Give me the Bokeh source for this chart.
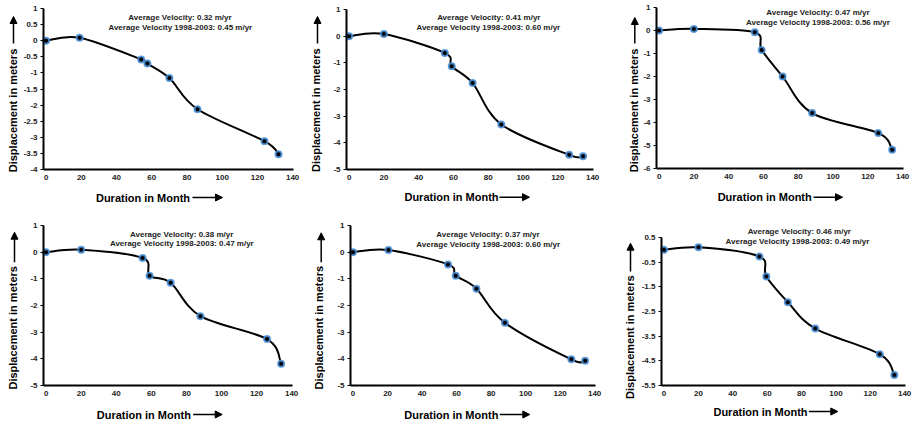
import numpy as np
from bokeh.plotting import figure
from bokeh.models import (Range1d, FixedTicker, Label, Arrow, NormalHead,
                          CustomJSTickFormatter, LinearAxis)
from bokeh.layouts import column, row
from bokeh.embed import file_html
from bokeh.resources import INLINE

# ---------------- data ----------------
months_1 = [0, 19, 54, 57.5, 70, 86, 124, 132]
disp_1 = [0, 0.09, -0.58, -0.71, -1.16, -2.13, -3.12, -3.53]
months_2 = [0, 20, 55, 59, 71, 87.5, 126.5, 134.5]
disp_2 = [0, 0.08, -0.63, -1.13, -1.76, -3.31, -4.45, -4.50]
months_3 = [0, 20, 55, 59, 71, 88, 126, 134]
disp_3 = [0, 0.07, -0.08, -0.85, -2.0, -3.59, -4.46, -5.18]
months_4 = [0, 20, 55, 59, 71, 88, 126, 134]
disp_4 = [0, 0.09, -0.22, -0.88, -1.15, -2.40, -3.26, -4.18]
months_5 = [0, 20.5, 55, 59.5, 71.5, 88, 126.5, 134.5]
disp_5 = [0, 0.08, -0.46, -0.88, -1.37, -2.65, -4.02, -4.07]
months_6 = [0, 20, 55.5, 59.5, 72, 88, 125.5, 134]
disp_6 = [0, 0.10, -0.27, -1.08, -2.12, -3.19, -4.23, -5.07]

avg_velocity = ["0.32", "0.41", "0.47", "0.38", "0.37", "0.46"]
avg_velocity_9803 = ["0.45", "0.60", "0.56", "0.47", "0.60", "0.49"]

x_ticks = [0, 20, 40, 60, 80, 100, 120, 140]
y_ticks_1 = [1, 0.5, 0, -0.5, -1, -1.5, -2, -2.5, -3, -3.5, -4]
y_ticks_2 = [1, 0, -1, -2, -3, -4, -5]
y_ticks_3 = [1, 0, -1, -2, -3, -4, -5, -6]
y_ticks_4 = [1, 0, -1, -2, -3, -4, -5]
y_ticks_5 = [1, 0, -1, -2, -3, -4, -5]
y_ticks_6 = [0.5, -0.5, -1.5, -2.5, -3.5, -4.5, -5.5]

x_title = "Duration in Month"
y_title = "Displacement in meters"

series = [(months_1, disp_1, y_ticks_1), (months_2, disp_2, y_ticks_2),
          (months_3, disp_3, y_ticks_3), (months_4, disp_4, y_ticks_4),
          (months_5, disp_5, y_ticks_5), (months_6, disp_6, y_ticks_6)]

# ---------------- layout (pixels, local to each figure, y from top) ----------------
# frame = (left, top, right, bottom) of the plotted axes box
layout = [
    dict(w=300, h=205, frame=(43, 8, 293, 169), v1=(179.5, 17.3), v2=(179.8, 26.7),
         xl=(142.5, 197), xa=(192, 222, 197), yl=(12, 110), ya=(13, 43, 16)),
    dict(w=305, h=205, frame=(46, 9, 293, 169), v1=(188.3, 17.3), v2=(187.8, 26.7),
         xl=(151, 196.7), xa=(199, 229, 196.7), yl=(15.5, 109.7), ya=(17, 43, 16)),
    dict(w=308, h=205, frame=(51, 7, 298, 168), v1=(212.5, 11.7), v2=(212.5, 22),
         xl=(159.2, 196.7), xa=(208, 237, 196.7), yl=(28.8, 110), ya=(29.3, 43, 17)),
    dict(w=300, h=217, frame=(43, 20, 292, 180), v1=(181.2, 29), v2=(181.3, 38.3),
         xl=(143.3, 209), xa=(192.7, 221.7, 209), yl=(12.8, 122.3), ya=(14, 56.7, 26.7)),
    dict(w=305, h=217, frame=(50, 20, 295, 180), v1=(187.5, 29.3), v2=(187.7, 39),
         xl=(150.8, 209), xa=(199.3, 229.3, 209), yl=(18.7, 122.2), ya=(20.7, 56.7, 27.3)),
    dict(w=308, h=217, frame=(56, 32, 300, 180), v1=(193.8, 26), v2=(192, 36),
         xl=(155, 206), xa=(203.3, 232.3, 206), yl=(24.2, 131.7), ya=(25, 66, 37.7)),
]

FONT = "Liberation Sans"
X_LO, X_HI = -1.5, 140.5


def smooth(x, y):
    x = np.asarray(x, float)
    y = np.asarray(y, float)
    n = len(x)
    xp = np.concatenate([[x[0]], x, [x[-1]]])
    yp = np.concatenate([[y[0]], y, [y[-1]]])
    return dict(
        x0=x[:-1], y0=y[:-1], x1=x[1:], y1=y[1:],
        cx0=x[:-1] + (xp[2:n + 1] - xp[0:n - 1]) / 6.0,
        cy0=y[:-1] + (yp[2:n + 1] - yp[0:n - 1]) / 6.0,
        cx1=x[1:] - (xp[3:n + 2] - xp[1:n]) / 6.0,
        cy1=y[1:] - (yp[3:n + 2] - yp[1:n]) / 6.0,
    )


def style_axis(ax):
    ax.axis_line_color = "black"
    ax.axis_line_width = 2
    ax.major_label_text_font = FONT
    ax.major_label_text_font_style = "bold"
    ax.major_label_text_font_size = "8px"
    ax.major_label_text_color = "#222222"
    ax.minor_tick_line_color = None
    ax.major_tick_in = 0
    ax.major_tick_line_color = "black"
    ax.formatter = CustomJSTickFormatter(code="return String(tick);")


figs = []
for k, ((mx, dy_, yt), lay) in enumerate(zip(series, layout)):
    w, h = lay["w"], lay["h"]
    L, T, R, B = lay["frame"]
    y_lo, y_hi = min(yt), max(yt)
    sx = (R - L) / (X_HI - X_LO)
    sy = (B - T) / (y_hi - y_lo)
    xr = Range1d(X_LO - L / sx, X_HI + (w - R) / sx)
    yr = Range1d(y_lo - (h - B) / sy, y_hi + T / sy)
    p = figure(width=w, height=h, x_range=xr, y_range=yr, toolbar_location=None,
               output_backend="svg", min_border=0, title=None,
               x_axis_location=None, y_axis_location=None)
    p.outline_line_color = None
    p.xgrid.visible = False
    p.ygrid.visible = False

    xaxis = LinearAxis(fixed_location=y_lo, bounds=(X_LO, X_HI),
                       ticker=FixedTicker(ticks=x_ticks))
    style_axis(xaxis)
    xaxis.major_tick_out = 0
    xaxis.major_label_standoff = 5
    p.add_layout(xaxis, "below")

    yaxis = LinearAxis(fixed_location=X_LO, bounds=(y_lo, y_hi),
                       ticker=FixedTicker(ticks=yt))
    style_axis(yaxis)
    yaxis.major_tick_out = 3
    yaxis.major_label_standoff = 3
    p.add_layout(yaxis, "left")

    p.bezier(line_color="black", line_width=2, **smooth(mx, dy_))
    p.scatter(mx, dy_, size=6, fill_color="black", line_color="#4a8fd8",
              line_width=2, line_alpha=0.85)

    for txt, pos in ((f"Average Velocity: {avg_velocity[k]} m/yr", lay["v1"]),
                     (f"Average Velocity 1998-2003: {avg_velocity_9803[k]} m/yr", lay["v2"])):
        p.add_layout(Label(x=pos[0], y=pos[1], x_units="canvas", y_units="canvas",
                           text=txt, text_font=FONT,
                           text_font_style="bold", text_font_size="8px",
                           text_color="#222222", text_align="center",
                           text_baseline="middle"))

    p.add_layout(Label(x=lay["xl"][0], y=lay["xl"][1], x_units="canvas", y_units="canvas",
                       text=x_title,
                       text_font=FONT, text_font_style="bold", text_font_size="11px",
                       text_color="black", text_align="center", text_baseline="middle"))
    p.add_layout(Label(x=lay["yl"][0], y=lay["yl"][1], x_units="canvas", y_units="canvas",
                       text=y_title,
                       angle=np.pi / 2, text_font=FONT, text_font_style="bold",
                       text_font_size="11px", text_color="black", text_align="center",
                       text_baseline="middle"))
    xa0, xa1, xay = lay["xa"]
    p.add_layout(Arrow(x_start=xa0, y_start=xay, x_end=xa1, y_end=xay,
                       start_units="canvas", end_units="canvas",
                       line_color="black", line_width=1.5,
                       end=NormalHead(size=7, fill_color="black", line_color="black")))
    yax, ya0, ya1 = lay["ya"]
    p.add_layout(Arrow(x_start=yax, y_start=ya0, x_end=yax, y_end=ya1,
                       start_units="canvas", end_units="canvas",
                       line_color="black", line_width=1.5,
                       end=NormalHead(size=7, fill_color="black", line_color="black")))
    figs.append(p)

page = column(row(*figs[:3], spacing=0), row(*figs[3:], spacing=0), spacing=0)
open("out.html", "w").write(file_html(page, INLINE))
